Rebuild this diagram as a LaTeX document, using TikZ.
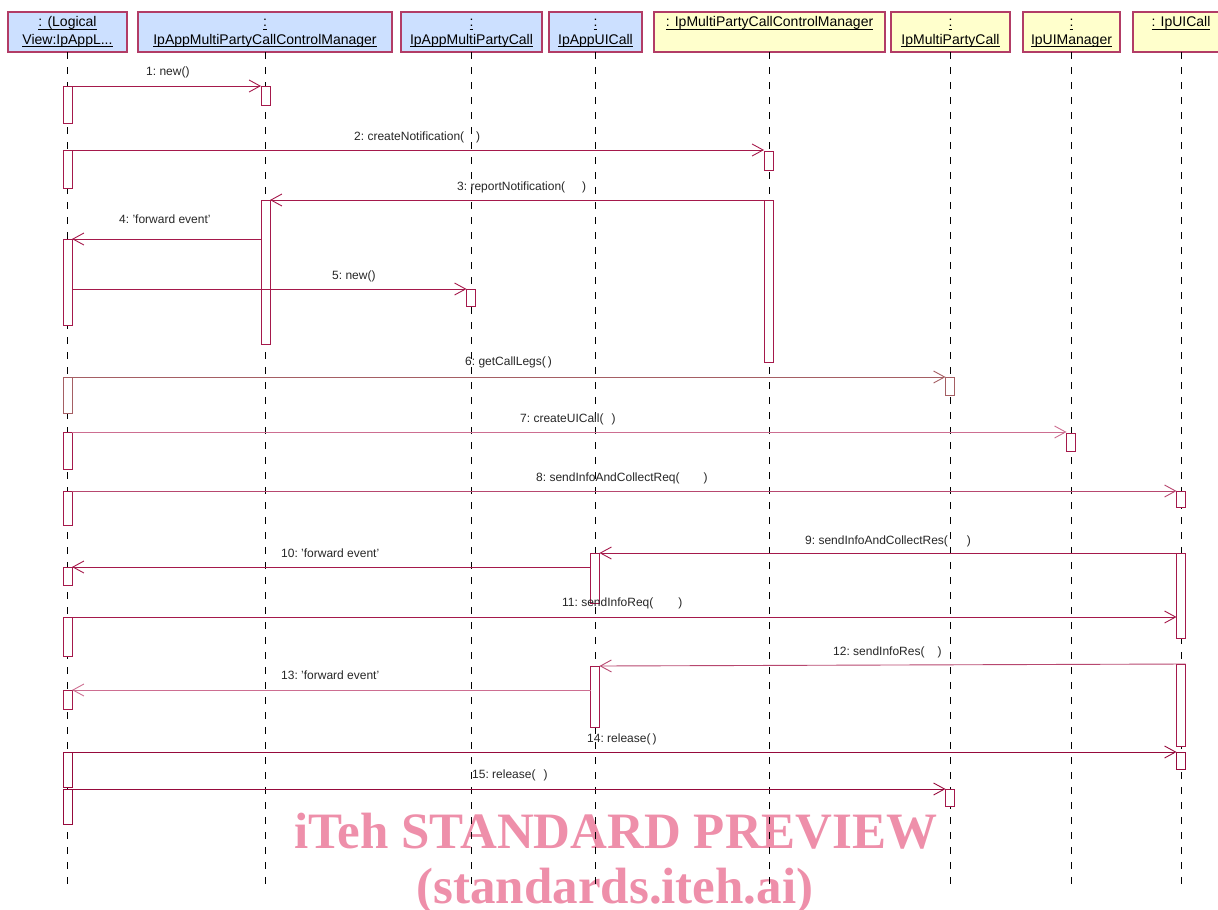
\documentclass[tikz,border=0pt]{standalone}
\usepackage{fontspec}
\setmainfont{Liberation Sans}
\newfontfamily\wmfont{Liberation Serif}
\usetikzlibrary{arrows.meta,calc}
\definecolor{umlred}{RGB}{165,25,75}
\definecolor{umlpink}{RGB}{205,110,145}
\definecolor{umlbrown}{RGB}{165,95,100}
\definecolor{umldark}{RGB}{150,10,60}
\definecolor{hdrblue}{RGB}{204,224,255}
\definecolor{hdryellow}{RGB}{255,255,204}
\definecolor{wmpink}{RGB}{238,143,170}
\newcommand\hul[1]{\setbox0\hbox{#1}\rlap{\rule[-2.6pt]{\wd0}{0.8pt}}\box0}
\begin{document}
\begin{tikzpicture}[x=1pt,y=-1pt,
  head/.style={draw=umlred!85, line width=1.2pt, inner sep=0pt, outer sep=0pt, minimum height=40pt},
  bluehead/.style={head, fill=hdrblue},
  yellowhead/.style={head, fill=hdryellow},
  htext/.style={anchor=base, font=\fontsize{14}{16}\selectfont, inner sep=0pt},
  lifeline/.style={draw=black, line width=0.8pt, dash pattern=on 7pt off 8pt},
  actbox/.style={draw=umlred, fill=white, line width=0.9pt, anchor=north, minimum width=9pt, inner sep=0pt, outer sep=0pt},
  msg/.style={draw=umlred, line width=0.9pt, -{Straight Barb[length=11pt,width=12pt,line width=0.9pt]}},
  lbl/.style={anchor=base west, font=\fontsize{12}{14}\selectfont, inner sep=0pt, text=black!85},
  wm/.style={anchor=base, font=\wmfont\bfseries\fontsize{51}{55}\selectfont, text=wmpink, inner sep=0pt}
]
\useasboundingbox (0,0) rectangle (1218,910);

% watermark
\node[wm] (wm1) at (616,848) {iTeh STANDARD PREVIEW};
\node[wm] (wm2) at (615,903) {(standards.iteh.ai)};

% header boxes
\node[bluehead, minimum width=119pt] (h1) at (67.5,32) {};
\node[bluehead, minimum width=254pt] (h2) at (265,32) {};
\node[bluehead, minimum width=141pt] (h3) at (471.5,32) {};
\node[bluehead, minimum width=93pt] (h4) at (595.5,32) {};
\node[yellowhead, minimum width=231pt] (h5) at (769.5,32) {};
\node[yellowhead, minimum width=119pt] (h6) at (950.5,32) {};
\node[yellowhead, minimum width=97pt] (h7) at (1071.5,32) {};
\node[yellowhead, minimum width=96pt] (h8) at (1181,32) {};

% header texts
\node[htext] (t1a) at ($(h1.north)+(0,15)$) {\hul{: (Logical}};
\node[htext] (t1b) at ($(h1.north)+(0,32)$) {\hul{View:IpAppL...}};
\node[htext] (t2a) at ($(h2.north)+(0,15)$) {\hul{:}};
\node[htext] (t2b) at ($(h2.north)+(0,32)$) {\hul{IpAppMultiPartyCallControlManager}};
\node[htext] (t3a) at ($(h3.north)+(0,15)$) {\hul{:}};
\node[htext] (t3b) at ($(h3.north)+(0,32)$) {\hul{IpAppMultiPartyCall}};
\node[htext] (t4a) at ($(h4.north)+(0,15)$) {\hul{:}};
\node[htext] (t4b) at ($(h4.north)+(0,32)$) {\hul{IpAppUICall}};
\node[htext] (t5a) at ($(h5.north)+(0,15)$) {\hul{: IpMultiPartyCallControlManager}};
\node[htext] (t6a) at ($(h6.north)+(0,15)$) {\hul{:}};
\node[htext] (t6b) at ($(h6.north)+(0,32)$) {\hul{IpMultiPartyCall}};
\node[htext] (t7a) at ($(h7.north)+(0,15)$) {\hul{:}};
\node[htext] (t7b) at ($(h7.north)+(0,32)$) {\hul{IpUIManager}};
\node[htext] (t8a) at ($(h8.north)+(0,15)$) {\hul{: IpUICall}};

% lifelines
\coordinate (e1) at (67.5,888);
\coordinate (e2) at (265,888);
\coordinate (e3) at (471,888);
\coordinate (e4) at (595,888);
\coordinate (e5) at (769,888);
\coordinate (e6) at (950,888);
\coordinate (e7) at (1071.5,888);
\coordinate (e8) at (1181,888);
\draw[lifeline] (h1.south) -- (e1);
\draw[lifeline] (h2.south) -- (e2);
\draw[lifeline] (h3.south -| e3) -- (e3);
\draw[lifeline] (h4.south -| e4) -- (e4);
\draw[lifeline] (h5.south -| e5) -- (e5);
\draw[lifeline] (h6.south -| e6) -- (e6);
\draw[lifeline] (h7.south) -- (e7);
\draw[lifeline] (h8.south) -- (e8);

% activation boxes
\node[actbox, minimum height=37pt] (a1a) at (67.5,86) {};
\node[actbox, minimum height=38pt] (a1b) at (67.5,150) {};
\node[actbox, minimum height=86pt] (a1c) at (67.5,239) {};
\node[actbox, draw=umlbrown, minimum height=36pt] (a1d) at (67.5,377) {};
\node[actbox, minimum height=37pt] (a1e) at (67.5,432) {};
\node[actbox, minimum height=34pt] (a1f) at (67.5,491) {};
\node[actbox, minimum height=18pt] (a1g) at (67.5,567) {};
\node[actbox, minimum height=39pt] (a1h) at (67.5,617) {};
\node[actbox, minimum height=19pt] (a1i) at (67.5,690) {};
\node[actbox, draw=umldark, minimum height=35pt] (a1j) at (67.5,752) {};
\node[actbox, draw=umldark, minimum height=35pt] (a1k) at (67.5,789) {};
\node[actbox, minimum height=19pt] (a2a) at (265.5,86) {};
\node[actbox, minimum height=144pt] (a2b) at (265.5,200) {};
\node[actbox, minimum height=17pt] (a3) at (471,289) {};
\node[actbox, minimum height=50pt] (a4a) at (595,553) {};
\node[actbox, minimum height=61pt] (a4b) at (595,666) {};
\node[actbox, minimum height=19pt] (a5a) at (768.5,151) {};
\node[actbox, minimum height=162pt] (a5b) at (768.5,200) {};
\node[actbox, draw=umlbrown, minimum height=18pt] (a6a) at (950,377) {};
\node[actbox, minimum height=17pt] (a6b) at (950,789) {};
\node[actbox, minimum height=18pt] (a7) at (1071,433) {};
\node[actbox, minimum height=16pt] (a8a) at (1181,491) {};
\node[actbox, minimum height=85pt] (a8b) at (1181,553) {};
\node[actbox, minimum height=82pt] (a8c) at (1181,664) {};
\node[actbox, draw=umldark, minimum height=17pt] (a8d) at (1181,752) {};

% messages
\draw[msg] (a1a.north east) -- (a2a.north west);
\draw[msg] (a1b.north east) -- (a5a.north west |- a1b.north);
\draw[msg] (a5b.north east) -- (a2b.north east);
\draw[msg] (a2b.west |- a1c.north) -- (a1c.north east);
\draw[msg] (a1c.east |- a3.north) -- (a3.north west);
\draw[msg, draw=umlbrown] (a1d.north east) -- (a6a.north west);
\draw[msg, draw=umlpink] (a1e.north east) -- (a7.north west |- a1e.north);
\draw[msg, draw=umlred!80] (a1f.north east) -- (a8a.north west);
\draw[msg] (a8b.north east) -- (a4a.north east);
\draw[msg] (a4a.west |- a1g.north) -- (a1g.north east);
\draw[msg] (a1h.north east) -- (a8b.west |- a1h.north);
\draw[msg, draw=umlred!80] (a8c.north east) -- (a4b.north east);
\draw[msg, draw=umlpink] (a4b.west |- a1i.north) -- (a1i.north east);
\draw[msg, draw=umldark] (a1j.north east) -- (a8d.north west);
\draw[msg, draw=umldark] (a1k.north east) -- (a6b.north west);

% message labels
\node[lbl] (l1) at (146,75) {1:\ new()};
\node[lbl] (l2) at (354,140) {2:\ createNotification(\hspace{12pt})};
\node[lbl] (l3) at (457,190) {3:\ reportNotification(\hspace{17pt})};
\node[lbl] (l4) at (119,223) {4:\ 'forward event'};
\node[lbl] (l5) at (332,279) {5:\ new()};
\node[lbl] (l6) at (465,365) {6:\ getCallLegs(\hspace{2pt})};
\node[lbl] (l7) at (520,422) {7:\ createUICall(\hspace{8pt})};
\node[lbl] (l8) at (536,481) {8:\ sendInfoAndCollectReq(\hspace{24pt})};
\node[lbl] (l9) at (805,544) {9:\ sendInfoAndCollectRes(\hspace{19pt})};
\node[lbl] (l10) at (281,557) {10:\ 'forward event'};
\node[lbl] (l11) at (562,606) {11:\ sendInfoReq(\hspace{25pt})};
\node[lbl] (l12) at (833,655) {12:\ sendInfoRes(\hspace{13pt})};
\node[lbl] (l13) at (281,679) {13:\ 'forward event'};
\node[lbl] (l14) at (587,742) {14:\ release(\hspace{2pt})};
\node[lbl] (l15) at (472,778) {15:\ release(\hspace{8pt})};
\end{tikzpicture}
\end{document}
